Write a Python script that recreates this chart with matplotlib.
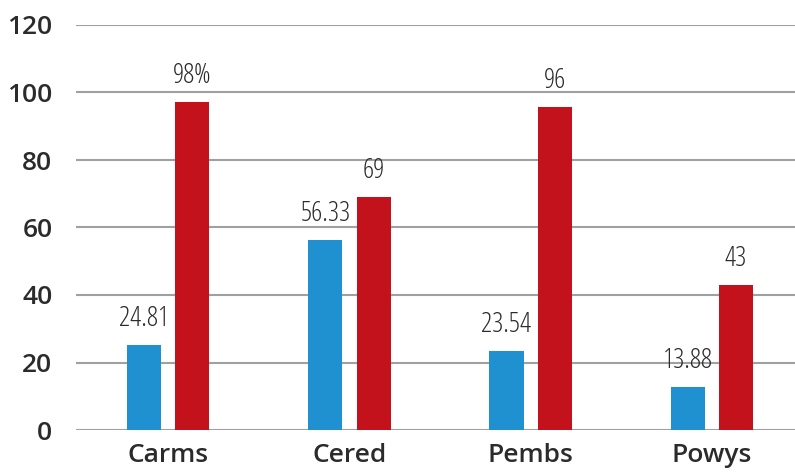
import matplotlib.pyplot as plt
import numpy as np

plt.rcParams['font.family'] = ['Open Sans', 'DejaVu Sans']

categories = ["Carms", "Cered", "Pembs", "Powys"]
blue_vals = [25.2, 56.3, 23.4, 12.8]
red_vals = [97.3, 69.0, 95.8, 43.0]
blue_labels = ["24.81", "56.33", "23.54", "13.88"]
red_labels = ["98%", "69", "96", "43"]
yticks = [0, 20, 40, 60, 80, 100, 120]

blue = '#1f91d0'
red = '#c4121c'
bar_width = 0.188
offset = 0.133

fig = plt.figure(figsize=(7.95, 4.73), dpi=100)
ax = fig.add_axes([76 / 795, 1 - 430 / 473, 1 - 76 / 795, (430 - 25) / 473])

x = np.arange(len(categories))
b1 = ax.bar(x - offset, blue_vals, width=bar_width, color=blue, zorder=3)
b2 = ax.bar(x + offset, red_vals, width=bar_width, color=red, zorder=3)

for rects, labels in ((b1, blue_labels), (b2, red_labels)):
    for rect, lab in zip(rects, labels):
        ax.annotate(lab, (rect.get_x() + rect.get_width() / 2, rect.get_height()),
                    xytext=(0, 12), textcoords='offset pixels', ha='center', va='bottom',
                    fontsize=20, color='#2b2b2b', fontweight='normal', fontstretch='condensed')

ax.set_xlim(-0.51, 3.46)
ax.set_ylim(0, 120)
ax.set_yticks(yticks)
ax.set_xticks(x, categories)
ax.grid(axis='y', color='#a0a0a0', linewidth=1.5, zorder=0)
for s in ax.spines.values():
    s.set_visible(False)
ax.tick_params(axis='both', length=0, labelsize=19, labelcolor='#2b2b2b')
ax.tick_params(axis='y', pad=17)
ax.tick_params(axis='x', pad=9)
for lab in ax.get_xticklabels() + ax.get_yticklabels():
    lab.set_fontweight('semibold')

plt.savefig("out.png", dpi=100)
